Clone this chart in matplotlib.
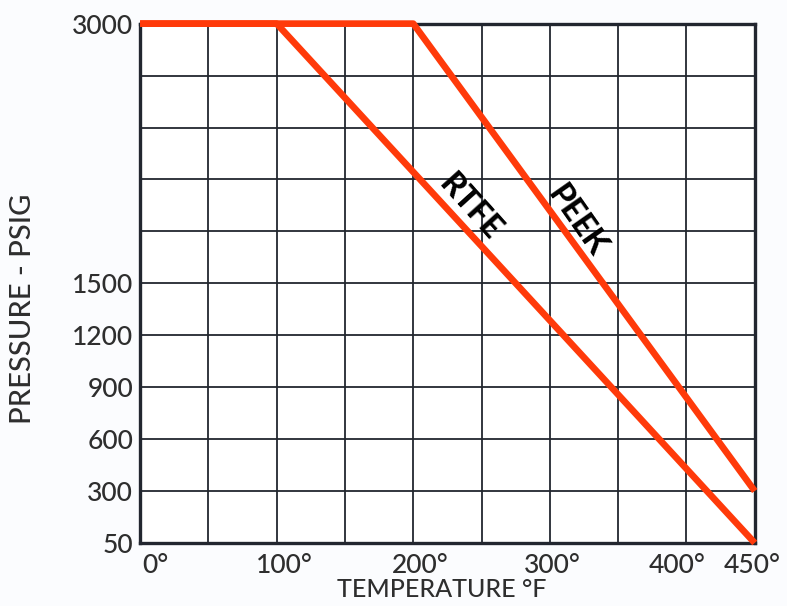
import numpy as np
import matplotlib
matplotlib.use('Agg')
import matplotlib.pyplot as plt
import matplotlib.transforms as mtrans

###############################
# data
###############################
temp_rtfe = [0, 100, 450]
psig_rtfe = [3000, 3000, 50]
temp_peek = [0, 200, 450]
psig_peek = [3000, 3000, 300]

x_ticks = [0, 50, 100, 150, 200, 250, 300, 350, 400, 450]
x_labels = ['0°', '', '100°', '', '200°', '', '300°', '', '400°', '450°']
y_ticks = [50, 300, 600, 900, 1200, 1500, 1800, 2100, 2400, 2700, 3000]
y_labels = ['50', '300', '600', '900', '1200', '1500', '', '', '', '', '3000']

# small sideways nudges of the x labels (pixels), as in the original
x_nudge = [15, 0, 8, 0, 7, 0, 2, 0, -9, -3]

red = '#ff3a0a'
ink = '#22262f'
txt = '#2e2e2e'

plt.rcParams['font.family'] = ['Lato', 'DejaVu Sans']

# bottom step is 50-300 but drawn the same height as the others
def fwd(y):
    y = np.asarray(y, dtype=float)
    return np.where(y < 300, (y - 50) * 300.0 / 250.0, y)

def inv(v):
    v = np.asarray(v, dtype=float)
    return np.where(v < 300, v * 250.0 / 300.0 + 50, v)

fig = plt.figure(figsize=(7.87, 6.06), dpi=100)
fig.patch.set_facecolor('#fbfcfe')
ax = fig.add_axes([0.178, 0.104, 0.781, 0.857])
ax.set_facecolor('white')
ax.set_yscale('function', functions=(fwd, inv))
ax.set_xlim(0, 450)
ax.set_ylim(50, 3000)

ax.plot(temp_rtfe, psig_rtfe, color=red, lw=4.8, solid_capstyle='butt', zorder=5, clip_on=False)
ax.plot(temp_peek, psig_peek, color=red, lw=4.8, solid_capstyle='butt', zorder=5, clip_on=False)

ax.set_xticks(x_ticks)
ax.set_xticklabels(x_labels)
ax.set_yticks(y_ticks)
ax.set_yticklabels(y_labels)
ax.yaxis.set_minor_locator(matplotlib.ticker.NullLocator())
ax.tick_params(length=0, labelsize=19, colors=txt, pad=5)
ax.tick_params(axis='x', pad=7)
for lab, dx in zip(ax.get_xticklabels(), x_nudge):
    lab.set_fontweight('medium')
    lab.set_transform(lab.get_transform() + mtrans.ScaledTranslation(dx / 100.0, 0, fig.dpi_scale_trans))
for lab in ax.get_yticklabels():
    lab.set_fontweight('medium')
ax.grid(True, color=ink, lw=1.3)
for sp in ax.spines.values():
    sp.set_linewidth(2.4)
    sp.set_color(ink)

ax.set_xlabel('TEMPERATURE °F', fontsize=18, color=txt, fontweight='medium', va='center')
ax.xaxis.set_label_coords(0.49, -0.09)
ax.set_ylabel('PRESSURE - PSIG', fontsize=21, color=txt, labelpad=20, fontweight='medium')
ax.yaxis.set_label_coords(-0.17, 0.45)

ax.text(242, 1940, 'RTFE', rotation=-48, fontsize=23, fontweight='black',
        ha='center', va='center', color='black', zorder=6)
ax.text(320, 1860, 'PEEK', rotation=-55, fontsize=23, fontweight='black',
        ha='center', va='center', color='black', zorder=6)

plt.savefig('out.png', dpi=100, facecolor=fig.get_facecolor())
